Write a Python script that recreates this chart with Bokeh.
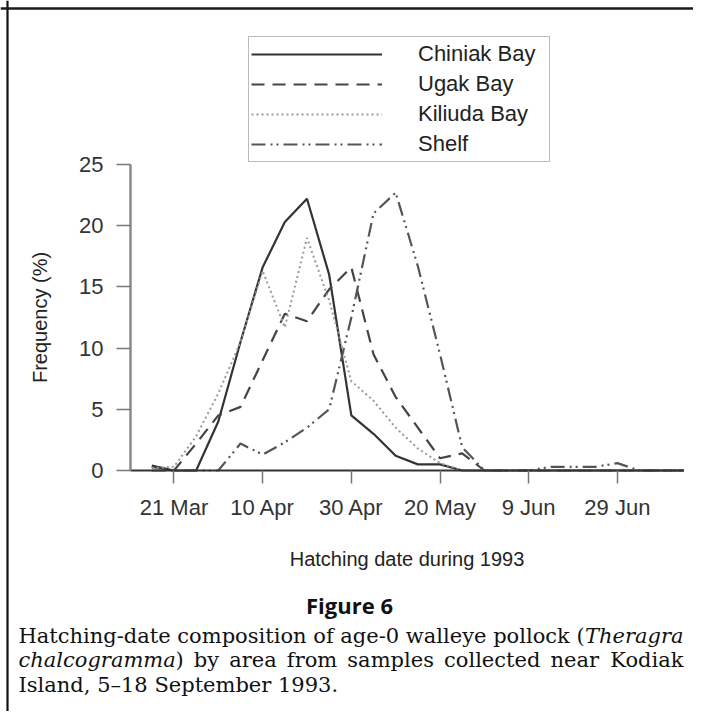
import pandas as pd
from bokeh.plotting import figure
from bokeh.models import Range1d, FixedTicker, Label, Span
from bokeh.embed import file_html
from bokeh.resources import INLINE

# ---------------- data ----------------
dates = ["1993-03-16", "1993-03-21", "1993-03-26", "1993-03-31", "1993-04-05",
         "1993-04-10", "1993-04-15", "1993-04-20", "1993-04-25", "1993-04-30",
         "1993-05-05", "1993-05-10", "1993-05-15", "1993-05-20", "1993-05-25",
         "1993-05-30", "1993-06-04", "1993-06-09", "1993-06-14", "1993-06-19",
         "1993-06-24", "1993-06-29", "1993-07-04", "1993-07-09", "1993-07-14"]
chiniak = [0.4, 0.0, 0.0, 4.0, 10.5, 16.6, 20.3, 22.2, 16.0, 4.5, 3.0, 1.2, 0.5,
           0.5, 0.0, 0.0, 0.0, 0.0, 0.0, 0.0, 0.0, 0.0, 0.0, 0.0, 0.0]
ugak = [0.3, 0.0, 2.2, 4.5, 5.2, 9.0, 12.8, 12.2, 14.8, 16.6, 9.5, 6.0, 3.5,
        1.0, 1.4, 0.0, 0.0, 0.0, 0.0, 0.0, 0.0, 0.0, 0.0, 0.0, 0.0]
kiliuda = [0.2, 0.3, 2.8, 6.3, 10.5, 16.3, 11.7, 19.0, 13.9, 7.3, 5.7, 3.5, 1.8,
           0.6, 0.0, 0.0, 0.0, 0.0, 0.0, 0.0, 0.0, 0.0, 0.0, 0.0, 0.0]
shelf = [0.0, 0.0, 0.0, 0.0, 2.2, 1.3, 2.3, 3.5, 5.0, 12.5, 21.0, 22.7, 16.7,
         9.5, 1.9, 0.0, 0.0, 0.0, 0.3, 0.3, 0.3, 0.6, 0.0, 0.0, 0.0]
series_names = ["Chiniak Bay", "Ugak Bay", "Kiliuda Bay", "Shelf"]
tick_dates = ["1993-03-21", "1993-04-10", "1993-04-30", "1993-05-20", "1993-06-09", "1993-06-29"]
tick_labels = ["21 Mar", "10 Apr", "30 Apr", "20 May", "9 Jun", "29 Jun"]
y_ticks = [0, 5, 10, 15, 20, 25]
x_axis_start, x_axis_end = "1993-03-11", "1993-07-14"


def doy(s):
    return int(pd.Timestamp(s).dayofyear)


x = [doy(d) for d in dates]
tx = [doy(d) for d in tick_dates]

# ---------------- layout constants (pixels) ----------------
W, H = 693, 711
PX_DAY = 4.434                 # pixels per day
REF_DAY, REF_PX = 80, 173.47   # 21 Mar sits at this pixel column
PX_UNIT = 12.24                # pixels per 1 % of frequency
ZERO_PY = 470                  # pixel row of frequency 0

x_lo = REF_DAY - REF_PX / PX_DAY
x_hi = x_lo + W / PX_DAY
y_hi = ZERO_PY / PX_UNIT
y_lo = -(H - ZERO_PY) / PX_UNIT


def px2x(px):
    return x_lo + px / PX_DAY


def py2y(py):
    return y_hi - py / PX_UNIT


FONT = "Liberation Sans"

p = figure(width=W, height=H, output_backend="svg", toolbar_location=None,
           x_range=Range1d(x_lo, x_hi), y_range=Range1d(y_lo, y_hi),
           min_border_left=0, min_border_right=0, min_border_top=0,
           min_border_bottom=0)
p.title.visible = False
p.grid.visible = False
p.outline_line_color = None
p.background_fill_color = "white"
p.border_fill_color = "white"

# figure border (left and top rules)
p.add_layout(Span(location=px2x(7), dimension="height", line_color="#111111", line_width=2.2))
p.add_layout(Span(location=py2y(8), dimension="width", line_color="#1a1a1a", line_width=2.6))

styles = [
    dict(line_color="#333333", line_width=2.2, line_dash="solid"),
    dict(line_color="#444444", line_width=2.2, line_dash="13 8"),
    dict(line_color="#9a9a9a", line_width=2.0, line_dash="2 3"),
    dict(line_color="#555555", line_width=2.2, line_dash="14 5 2 4 2 5"),
]
for name, ys, st in zip(series_names, [chiniak, ugak, kiliuda, shelf], styles):
    p.line(x, ys, legend_label=name, **st)

# y axis
ya = p.yaxis[0]
ya.fixed_location = doy(x_axis_start) + 0.2
ya.ticker = FixedTicker(ticks=y_ticks)
ya.bounds = (0, 25)
ya.axis_line_color = "#8a8a8a"
ya.axis_line_width = 2.5
ya.major_tick_line_color = "#777777"
ya.major_tick_line_width = 1.5
ya.major_tick_out = 14
ya.major_tick_in = 0
ya.minor_tick_out = 0
ya.minor_tick_in = 0
ya.major_label_text_font = FONT
ya.major_label_text_font_size = "22px"
ya.major_label_text_color = "#333333"
ya.major_label_standoff = 13
ya.axis_label = "Frequency (%)"
ya.axis_label_text_font = FONT
ya.axis_label_text_font_size = "20px"
ya.axis_label_text_font_style = "normal"
ya.axis_label_text_color = "#222222"
ya.axis_label_standoff = 25

# x axis
xa = p.xaxis[0]
xa.fixed_location = 0
xa.bounds = (doy(x_axis_start) + 0.2, doy(x_axis_end))
xa.ticker = FixedTicker(ticks=tx)
xa.major_label_overrides = {t: l for t, l in zip(tx, tick_labels)}
xa.axis_line_color = "#333333"
xa.axis_line_width = 2
xa.major_tick_line_color = "#777777"
xa.major_tick_line_width = 1.5
xa.major_tick_out = 13
xa.major_tick_in = 0
xa.minor_tick_out = 0
xa.minor_tick_in = 0
xa.major_label_text_font = FONT
xa.major_label_text_font_size = "22px"
xa.major_label_text_color = "#333333"
xa.major_label_standoff = 11
xa.axis_label = "Hatching date during 1993"
xa.axis_label_text_font = FONT
xa.axis_label_text_font_size = "20px"
xa.axis_label_text_font_style = "normal"
xa.axis_label_text_color = "#222222"
xa.axis_label_standoff = 25

# legend
lg = p.legend[0]
lg.location = (248, H - 162)
lg.margin = 0
lg.padding = 2
lg.spacing = 0
lg.glyph_width = 131
lg.glyph_height = 30
lg.label_height = 30
lg.label_width = 129
lg.label_standoff = 36
lg.label_text_font = FONT
lg.label_text_font_size = "22px"
lg.label_text_color = "#222222"
lg.border_line_color = "#777777"
lg.border_line_width = 1.5
lg.background_fill_alpha = 1.0

CAP_SIZE = 21


def cap(text, px, py, align="left", font="DejaVu Serif", size=CAP_SIZE, style="normal"):
    p.add_layout(Label(x=px2x(px), y=py2y(py), text=text, text_align=align,
                       text_baseline="middle", text_font=font, text_font_size=f"{size}px",
                       text_font_style=style, text_color="#111111"))


# approximate DejaVu Serif advance widths (em) used to justify caption line 2
EM = {"a": .596, "b": .640, "c": .560, "d": .640, "e": .592, "f": .370, "g": .640,
      "h": .644, "i": .320, "k": .605, "l": .320, "m": .948, "n": .644, "o": .602,
      "p": .640, "r": .478, "s": .513, "t": .402, "u": .644, "y": .565, "K": .780,
      ")": .390}


def word_w(w):
    return sum(EM.get(ch, 0.6) for ch in w) * CAP_SIZE


def justify(words, x0, x1, py, lead_gap=True):
    total = sum(word_w(w) for w in words)
    gaps = len(words) if lead_gap else len(words) - 1
    g = (x1 - x0 - total) / gaps
    xpos = x0 + (g if lead_gap else 0)
    for i, w in enumerate(words):
        if i == len(words) - 1:
            cap(w, x1, py, align="right")
        else:
            cap(w, xpos, py)
        xpos += word_w(w) + g


cap("Figure 6", 349, 604, align="center", font="Open Sans", size=22, style="bold")
cap("Hatching-date composition of age-0 walleye pollock (", 18, 635)
cap("Theragra", 683, 635, align="right", style="italic")
cap("chalcogramma", 18, 659, style="italic")
paren_x = 18 + 7.478 * CAP_SIZE
cap(")", paren_x, 659)
justify("by area from samples collected near Kodiak".split(), paren_x + word_w(")"), 683, 659)
cap("Island, 5\u201318 September 1993.", 18, 684)

open("out.html", "w").write(file_html(p, INLINE))
